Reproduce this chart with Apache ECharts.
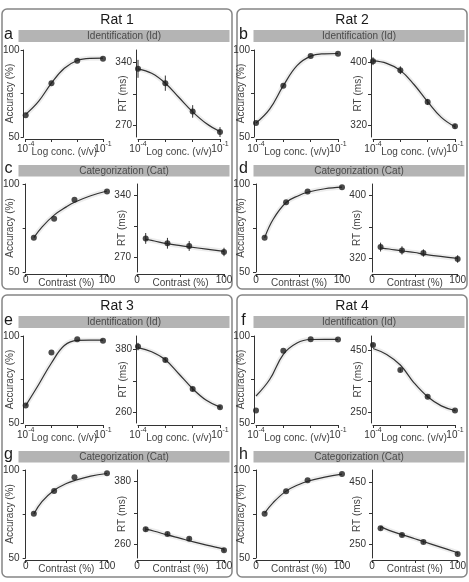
<!DOCTYPE html>
<html><head><meta charset="utf-8">
<script src="https://cdn.jsdelivr.net/npm/echarts@6/dist/echarts.min.js"></script>
<style>html,body{margin:0;padding:0;background:#fff}#c{width:469px;height:582px}</style>
</head><body><div id="c"></div>
<script>
// ---------- labels ----------
const ratNames = ['Rat 1', 'Rat 2', 'Rat 3', 'Rat 4'];
const panelLetters = [['a', 'c'], ['b', 'd'], ['e', 'g'], ['f', 'h']];
const idTitle = 'Identification (Id)';
const catTitle = 'Categorization (Cat)';
const idXName = 'Log conc. (v/v)';
const catXName = 'Contrast (%)';
const accName = 'Accuracy (%)';
const rtName = 'RT (ms)';

// ---------- x values ----------
const idConc = [1e-4, 1e-3, 1e-2, 1e-1];
const idFitConc = [1e-4, 3.16e-4, 1e-3, 3.16e-3, 1e-2, 3.16e-2, 1e-1];
const catContrast = [10, 35, 60, 100];
const catFitContrast = [10, 20, 35, 50, 60, 80, 100];

// ---------- ticks ----------
const accTicks = [50, 75, 100];
const accTickLabels = [50, 100];
const rtTicks = [[270, 305, 340], [320, 360, 400], [260, 320, 380], [250, 350, 450]];
const rtTickLabels = [[270, 340], [320, 400], [260, 380], [250, 450]];
const rtRangeId = [[257, 354], [305, 416], [240, 405], [216, 495]];
const rtRangeCat = [[254, 352], [302, 415], [234, 402], [205, 488]];

// ---------- Rat 1 ----------
const rat1IdAcc = [62.5, 80.9, 93.8, 95.0];
const rat1IdAccFit = [63, 70.5, 81, 89.5, 94, 95.2, 95.3];
const rat1IdRt = [333, 317, 285.5, 262.5];
const rat1IdRtErr = [10, 8.5, 7, 5.5];
const rat1IdRtFit = [333, 328, 317, 301, 285, 272, 263];
const rat1CatAcc = [69.5, 80.3, 91, 95.8];
const rat1CatAccFit = [69.5, 75.5, 82.3, 87, 89.6, 93.3, 96];
const rat1CatRt = [291.4, 286, 283, 276.3];
const rat1CatRtErr = [6, 6, 5.5, 4.7];
const rat1CatRtFit = [290.5, 288.5, 285.5, 283.3, 282, 279.5, 277];

// ---------- Rat 2 ----------
const rat2IdAcc = [58.1, 79.5, 96.6, 97.9];
const rat2IdAccFit = [58, 66, 79.5, 91, 96.5, 97.8, 98];
const rat2IdRt = [401.7, 390.2, 349.8, 318.7];
const rat2IdRtErr = [5, 5, 3.8, 3.2];
const rat2IdRtFit = [402, 399, 390, 372, 350, 330, 318];
const rat2CatAcc = [69.5, 89.6, 95.8, 98.1];
const rat2CatAccFit = [69.5, 80, 89.5, 93.5, 95.3, 97.3, 98.2];
const rat2CatRt = [334, 329.7, 326.4, 318.7];
const rat2CatRtErr = [5.7, 5.3, 4.7, 4.9];
const rat2CatRtFit = [333, 331.5, 329, 327, 325, 322, 319.5];

// ---------- Rat 3 ----------
const rat3IdAcc = [60.1, 90.5, 98.2, 97.3];
const rat3IdAccFit = [60, 72, 84.5, 94.5, 97.5, 97.6, 97.6];
const rat3IdRt = [385, 359.6, 304.4, 270];
const rat3IdRtErr = [7, 4, 4, 3];
const rat3IdRtFit = [383, 375, 360, 333, 305, 283, 270];
const rat3CatAcc = [75.1, 88.1, 95.9, 98.1];
const rat3CatAccFit = [75, 82, 88.5, 92.3, 94, 96.5, 98];
const rat3CatRt = [288.8, 279.8, 270.7, 249];
const rat3CatRtErr = [4, 3, 3, 3];
const rat3CatRtFit = [289, 285, 278, 271.5, 267, 258.5, 251];

// ---------- Rat 4 ----------
const rat4IdAcc = [57.2, 91.5, 98.2, 98.0];
const rat4IdAccFit = [65.5, 75, 89.5, 96, 98, 98.1, 98.1];
const rat4IdRt = [466, 386, 300, 256.4];
const rat4IdRtErr = [6, 5, 4, 3];
const rat4IdRtFit = [455, 436, 402, 345, 300, 271, 256];
const rat4CatAcc = [75.1, 87.9, 94.2, 97.7];
const rat4CatAccFit = [75.5, 81.5, 88, 91.8, 93.6, 96, 97.7];
const rat4CatRt = [300.4, 279, 256.4, 218];
const rat4CatRtErr = [6, 5, 5, 4];
const rat4CatRtFit = [306, 294, 280, 267, 258, 240, 222];

const rats = [
  {idAcc: rat1IdAcc, idAccFit: rat1IdAccFit, idRt: rat1IdRt, idRtErr: rat1IdRtErr, idRtFit: rat1IdRtFit,
   catAcc: rat1CatAcc, catAccFit: rat1CatAccFit, catRt: rat1CatRt, catRtErr: rat1CatRtErr, catRtFit: rat1CatRtFit},
  {idAcc: rat2IdAcc, idAccFit: rat2IdAccFit, idRt: rat2IdRt, idRtErr: rat2IdRtErr, idRtFit: rat2IdRtFit,
   catAcc: rat2CatAcc, catAccFit: rat2CatAccFit, catRt: rat2CatRt, catRtErr: rat2CatRtErr, catRtFit: rat2CatRtFit},
  {idAcc: rat3IdAcc, idAccFit: rat3IdAccFit, idRt: rat3IdRt, idRtErr: rat3IdRtErr, idRtFit: rat3IdRtFit,
   catAcc: rat3CatAcc, catAccFit: rat3CatAccFit, catRt: rat3CatRt, catRtErr: rat3CatRtErr, catRtFit: rat3CatRtFit},
  {idAcc: rat4IdAcc, idAccFit: rat4IdAccFit, idRt: rat4IdRt, idRtErr: rat4IdRtErr, idRtFit: rat4IdRtFit,
   catAcc: rat4CatAcc, catAccFit: rat4CatAccFit, catRt: rat4CatRt, catRtErr: rat4CatRtErr, catRtFit: rat4CatRtFit}
];

// ---------- layout ----------
const FONT = 'Liberation Sans, Arial, Helvetica, sans-serif';
const panelOrigin = [[0, 0], [235, 0], [0, 286], [235, 286]];
const boxHeights = [280, 280, 282, 282];

const grids = [], xAxes = [], yAxes = [], series = [], graphics = [];
const zip = (xs, ys) => xs.map((x, k) => [x, ys[k]]);

function addPlot(rect, isId, yMin, yMax, yTicks, yLabels, yName, pts, fit, err) {
  const gi = grids.length;
  grids.push({left: rect[0], top: rect[1], width: rect[2], height: rect[3], containLabel: false});
  const axisLine = {show: true, lineStyle: {color: '#333', width: 1}};
  const axisTick = {show: true, length: 3, lineStyle: {color: '#333', width: 1}};
  if (isId) {
    xAxes.push({
      gridIndex: gi, type: 'log', logBase: 10, min: 1e-4, max: 1e-1, offset: 2,
      axisLine, axisTick, splitLine: {show: false},
      axisLabel: {
        margin: 2, showMinLabel: true, showMaxLabel: true,
        formatter: v => { const e = Math.round(Math.log10(v)); return (e === -4 || e === -1) ? '{b|10}{s|' + e + '}' : ''; },
        rich: {
          b: {fontSize: 10, color: '#333', fontFamily: FONT, lineHeight: 13, verticalAlign: 'bottom'},
          s: {fontSize: 7, color: '#333', fontFamily: FONT, lineHeight: 8, verticalAlign: 'top'}
        }
      },
      name: idXName, nameLocation: 'middle', nameGap: 8, nameMoveOverlap: false,
      nameTextStyle: {fontSize: 10, color: '#444', fontFamily: FONT, verticalAlign: 'top'}
    });
  } else {
    xAxes.push({
      gridIndex: gi, type: 'value', min: 0, max: 100, offset: 2,
      axisLine, axisTick: Object.assign({customValues: [0, 50, 100]}, axisTick), splitLine: {show: false},
      axisLabel: {margin: 1, fontSize: 10, color: '#333', fontFamily: FONT, customValues: [0, 100]},
      name: catXName, nameLocation: 'middle', nameGap: 4, nameMoveOverlap: false,
      nameTextStyle: {fontSize: 10, color: '#444', fontFamily: FONT, verticalAlign: 'top'}
    });
  }
  yAxes.push({
    gridIndex: gi, type: 'value', min: yMin, max: yMax, offset: 2,
    axisLine, axisTick: Object.assign({customValues: yTicks}, axisTick), splitLine: {show: false},
    axisLabel: {margin: 4, fontSize: 10, color: '#333', fontFamily: FONT, customValues: yLabels},
    name: yName, nameLocation: 'middle', nameGap: 8, nameRotate: 90, nameMoveOverlap: false,
    nameTextStyle: {fontSize: 10, color: '#444', fontFamily: FONT}
  });
  const xs = isId ? idConc : catContrast;
  const fxs = isId ? idFitConc : catFitContrast;
  series.push({
    type: 'line', xAxisIndex: gi, yAxisIndex: gi, data: zip(fxs, fit), smooth: 0.4, showSymbol: false,
    clip: false, silent: true, lineStyle: {color: 'rgba(0,0,0,0.07)', width: 5}, z: 1
  });
  series.push({
    type: 'line', xAxisIndex: gi, yAxisIndex: gi, data: zip(fxs, fit), smooth: 0.4, showSymbol: false,
    clip: false, silent: true, lineStyle: {color: '#333', width: 1.2}, z: 2
  });
  if (err) {
    series.push({
      type: 'custom', xAxisIndex: gi, yAxisIndex: gi, clip: false, silent: true, z: 3,
      encode: {x: 0, y: [1, 2]},
      data: xs.map((x, k) => [x, pts[k] - err[k], pts[k] + err[k]]),
      renderItem: (params, api) => {
        const p1 = api.coord([api.value(0), api.value(1)]);
        const p2 = api.coord([api.value(0), api.value(2)]);
        return {type: 'line', shape: {x1: p1[0], y1: p1[1], x2: p2[0], y2: p2[1]}, style: {stroke: '#333', lineWidth: 1}};
      }
    });
  }
  series.push({
    type: 'scatter', xAxisIndex: gi, yAxisIndex: gi, data: zip(xs, pts), symbolSize: 6, clip: false, silent: true,
    itemStyle: {color: '#1e1e1e'}, z: 4
  });
}

rats.forEach((r, i) => {
  const [ox, oy] = panelOrigin[i];
  graphics.push({type: 'rect', shape: {x: ox + 2, y: oy + 9, width: 230, height: boxHeights[i], r: 5},
    style: {fill: 'none', stroke: '#858585', lineWidth: 1.5}, z: 0});
  graphics.push({type: 'text', style: {text: ratNames[i], x: ox + 117, y: oy + 20, align: 'center', verticalAlign: 'middle',
    fontSize: 14, fontFamily: FONT, fill: '#1a1a1a'}});
  graphics.push({type: 'rect', shape: {x: ox + 18.5, y: oy + 30, width: 211, height: 12}, style: {fill: '#b4b4b4'}});
  graphics.push({type: 'text', style: {text: idTitle, x: ox + 124, y: oy + 36.5, align: 'center', verticalAlign: 'middle',
    fontSize: 10, fontFamily: FONT, fill: '#4a4a4a'}});
  graphics.push({type: 'rect', shape: {x: ox + 18.5, y: oy + 165, width: 211, height: 11.5}, style: {fill: '#b4b4b4'}});
  graphics.push({type: 'text', style: {text: catTitle, x: ox + 124, y: oy + 171, align: 'center', verticalAlign: 'middle',
    fontSize: 10, fontFamily: FONT, fill: '#4a4a4a'}});
  graphics.push({type: 'text', style: {text: panelLetters[i][0], x: ox + 8.5, y: oy + 34.5, align: 'center', verticalAlign: 'middle',
    fontSize: 16, fontFamily: FONT, fill: '#1a1a1a'}});
  graphics.push({type: 'text', style: {text: panelLetters[i][1], x: ox + 8.5, y: oy + 168.5, align: 'center', verticalAlign: 'middle',
    fontSize: 16, fontFamily: FONT, fill: '#1a1a1a'}});

  addPlot([ox + 21, oy + 50, 82, 87], true, 50, 100, accTicks, accTickLabels, accName, r.idAcc, r.idAccFit, null);
  addPlot([ox + 138, oy + 50, 82, 87], true, rtRangeId[i][0], rtRangeId[i][1], rtTicks[i], rtTickLabels[i], rtName, r.idRt, r.idRtFit, r.idRtErr);
  addPlot([ox + 21, oy + 184, 86, 88], false, 50, 100, accTicks, accTickLabels, accName, r.catAcc, r.catAccFit, null);
  addPlot([ox + 137, oy + 184, 87, 88], false, rtRangeCat[i][0], rtRangeCat[i][1], rtTicks[i], rtTickLabels[i], rtName, r.catRt, r.catRtFit, r.catRtErr);
});

const chart = echarts.init(document.getElementById('c'), null, {renderer: 'canvas'});
chart.setOption({
  animation: false,
  backgroundColor: '#ffffff',
  textStyle: {fontFamily: FONT},
  grid: grids, xAxis: xAxes, yAxis: yAxes, series: series,
  graphic: {elements: graphics}
});
</script>
</body></html>
